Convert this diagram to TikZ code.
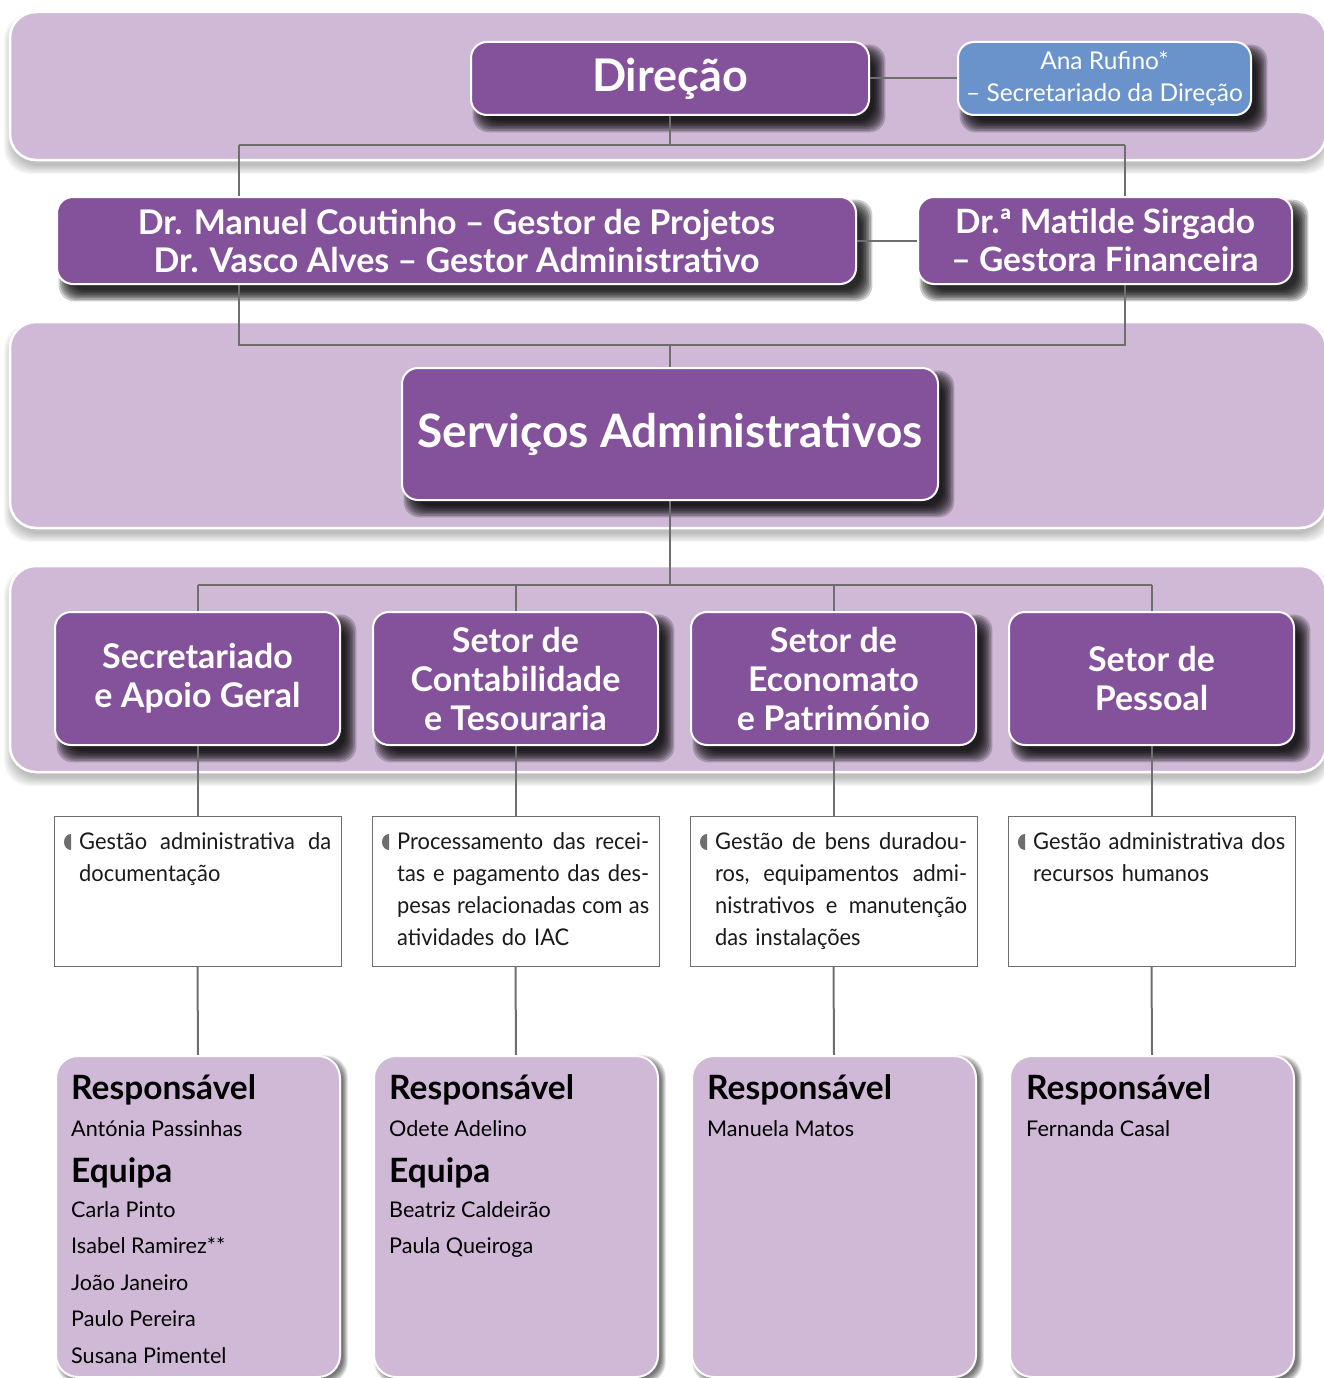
\documentclass[tikz,border=0pt]{standalone}
\usepackage{fontspec}
\setmainfont{Lato}
\newfontfamily\descfont[FakeStretch=0.95]{Lato}
\usetikzlibrary{calc}
\definecolor{bandc}{HTML}{CFB9D7}
\definecolor{purp}{HTML}{84529B}
\definecolor{blueb}{HTML}{6B93CB}
\definecolor{conn}{HTML}{6E6E6E}
\definecolor{txt}{HTML}{1A1A1A}
\pgfdeclarelayer{bandshadow}
\pgfdeclarelayer{bandlayer}
\pgfdeclarelayer{shadowlayer}
\pgfdeclarelayer{linelayer}
\pgfsetlayers{bandshadow,bandlayer,shadowlayer,linelayer,main}
\newcommand{\softshadow}[6]{% node, dx, dy, radius, opacity per layer, step
  \foreach \k in {-4,...,3}{
    \pgfmathsetmacro{\ee}{-\k*#6}
    \fill[black, opacity=#5, rounded corners=#4]
      ($(#1.north west)+(#2-\ee,#3-\ee)$) rectangle ($(#1.south east)+(#2+\ee,#3+\ee)$);
  }}
\tikzset{
  bandbox/.style={fill=bandc, draw=white, line width=2.5pt, rounded corners=26pt, inner sep=0pt},
  pbox/.style={fill=purp, draw=white, line width=2pt, rounded corners=16pt, text=white,
    align=center, inner sep=0pt},
  bbox/.style={pbox, fill=blueb},
  descbox/.style={fill=white, draw=conn, line width=1pt, inner sep=0pt},
  teambox/.style={fill=bandc, draw=white, line width=2pt, rounded corners=22pt, inner sep=0pt},
  cline/.style={draw=conn, line width=2pt},
  desctext/.style={anchor=north west, inner sep=0pt, text width=252pt, align=left, text=txt,
    font=\descfont\fontsize{23}{32}\selectfont},
  headt/.style={anchor=base west, inner sep=0pt, text=black, font=\bfseries\fontsize{33.5}{33.5}\selectfont},
  namet/.style={anchor=base west, inner sep=0pt, text=black, font=\fontsize{21.6}{21.6}\selectfont},
}
\newcommand{\jl}[1]{\leavevmode\hbox to 252pt{#1}}
\begin{document}
\begin{tikzpicture}[x=1pt, y=-1pt]
\useasboundingbox (0,0) rectangle (1324,1378);

% bands
\begin{pgfonlayer}{bandlayer}
\node[bandbox, minimum width=1316pt, minimum height=148pt] (band1) at (668,86) {};
\node[bandbox, minimum width=1316pt, minimum height=206pt] (band2) at (668,425) {};
\node[bandbox, minimum width=1316pt, minimum height=206pt] (band3) at (668,669) {};
\end{pgfonlayer}

% top level nodes
\node[pbox, minimum width=398pt, minimum height=73pt, font=\bfseries\fontsize{45}{45}\selectfont]
  (dir) at (670,78.5) {Direção};
\node[bbox, minimum width=293pt, minimum height=73pt, font=\fontsize{24.5}{32.5}\selectfont]
  (ana) at (1104.5,78.5) {Ana Rufino*\\– Secretariado da Direção};
\node[pbox, minimum width=799pt, minimum height=87pt, font=\bfseries\fontsize{34}{38}\selectfont]
  (man) at (456.5,240.5) {Dr. Manuel Coutinho – Gestor de Projetos\\Dr. Vasco Alves – Gestor Administrativo};
\node[pbox, minimum width=374pt, minimum height=87pt, font=\bfseries\fontsize{33.5}{38}\selectfont]
  (mat) at (1105,240.5) {Dr.ª Matilde Sirgado\\– Gestora Financeira};
\node[pbox, minimum width=536pt, minimum height=132pt, font=\bfseries\fontsize{46}{46}\selectfont]
  (serv) at (670,434) {Serviços Administrativos};

% sectors
\tikzset{secbox/.style={pbox, minimum width=285pt, minimum height=133pt, font=\bfseries\fontsize{34}{39}\selectfont}}
\node[secbox] (s1) at (197.5,678.5) {Secretariado\\e Apoio Geral};
\node[secbox] (s2) at (515.5,678.5) {Setor de\\Contabilidade\\e Tesouraria};
\node[secbox] (s3) at (833.5,678.5) {Setor de\\Economato\\e Património};
\node[secbox] (s4) at (1151.5,678.5) {Setor de\\Pessoal};

% description boxes
\tikzset{dbox/.style={descbox, minimum width=287pt, minimum height=150pt}}
\node[dbox] (d1) at (197.5,891) {};
\node[dbox] (d2) at (515.5,891) {};
\node[dbox] (d3) at (833.5,891) {};
\node[dbox] (d4) at (1151.5,891) {};

\foreach \bx in {71,389,707,1025}{
  \fill[conn] (\bx,834) arc[start angle=270, end angle=90, x radius=7, y radius=8] -- cycle;
}

\node[desctext] (t1) at (79,832) {\jl{Gestão\hfill administrativa\hfill da}\\documentação};
\node[desctext] (t2) at (397,832) {\jl{Processamento\hfill das\hfill recei-}\\\jl{tas\hfill e\hfill pagamento\hfill das\hfill des-}\\\jl{pesas\hfill relacionadas\hfill com\hfill as}\\atividades do IAC};
\node[desctext] (t3) at (715,832) {\jl{Gestão\hfill de\hfill bens\hfill duradou-}\\\jl{ros,\hfill equipamentos\hfill admi-}\\\jl{nistrativos\hfill e\hfill manutenção}\\das instalações};
\node[desctext] (t4) at (1033,832) {\jl{Gestão\hfill administrativa\hfill dos}\\recursos humanos};

% team boxes
\tikzset{tbox/.style={teambox, minimum width=284pt, minimum height=321pt}}
\node[tbox] (e1) at (198,1216.5) {};
\node[tbox] (e2) at (516,1216.5) {};
\node[tbox] (e3) at (834,1216.5) {};
\node[tbox] (e4) at (1152,1216.5) {};

\node[headt] (r1) at (71,1099) {Responsável};
\node[namet] (n1) at (71,1136) {Antónia Passinhas};
\node[headt] (q1) at (71,1182) {Equipa};
\node[namet] (m11) at (71,1217) {Carla Pinto};
\node[namet] (m12) at (71,1253) {Isabel Ramirez**};
\node[namet] (m13) at (71,1290) {João Janeiro};
\node[namet] (m14) at (71,1326) {Paulo Pereira};
\node[namet] (m15) at (71,1363) {Susana Pimentel};

\node[headt] (r2) at (389,1099) {Responsável};
\node[namet] (n2) at (389,1136) {Odete Adelino};
\node[headt] (q2) at (389,1182) {Equipa};
\node[namet] (m21) at (389,1217) {Beatriz Caldeirão};
\node[namet] (m22) at (389,1253) {Paula Queiroga};

\node[headt] (r3) at (707,1099) {Responsável};
\node[namet] (n3) at (707,1136) {Manuela Matos};

\node[headt] (r4) at (1026,1099) {Responsável};
\node[namet] (n4) at (1026,1136) {Fernanda Casal};

% shadows
\begin{pgfonlayer}{bandshadow}
\foreach \b in {band1,band2,band3}{\softshadow{\b}{0}{8}{26pt}{0.035}{1.2}}
\end{pgfonlayer}
\begin{pgfonlayer}{shadowlayer}
\foreach \n in {dir,ana,man,mat,serv,s1,s2,s3,s4}{\softshadow{\n}{9}{10}{16pt}{0.2}{1.6}}
\foreach \n in {e1,e2,e3,e4}{\softshadow{\n}{4}{3}{22pt}{0.09}{0.7}}
\end{pgfonlayer}

% connectors
\begin{pgfonlayer}{linelayer}
\coordinate (j1) at (670,145);
\coordinate (j1l) at (239,145);
\coordinate (j1r) at (1125,145);
\draw[cline] (dir.east) -- (ana.west);
\draw[cline] (dir.south) -- (j1);
\draw[cline] (j1l) -- (j1r);
\draw[cline] (j1l) -- (j1l |- man.north);
\draw[cline] (j1r) -- (j1r |- mat.north);
\draw[cline] (man.east) -- (mat.west);
\coordinate (j2) at (670,345);
\coordinate (j2l) at (239,345);
\coordinate (j2r) at (1125,345);
\draw[cline] (j2l |- man.south) -- (j2l) -- (j2r) -- (j2r |- mat.south);
\draw[cline] (j2) -- (serv.north);
\coordinate (j3) at (670,585);
\draw[cline] (serv.south) -- (j3);
\draw[cline] (s1.north |- j3) -- (s4.north |- j3);
\foreach \i in {1,2,3,4}{
  \draw[cline] (s\i.north |- j3) -- (s\i.north);
  \draw[cline] (s\i.south) -- (d\i.north);
  \draw[cline] (d\i.south) -- (e\i.north);
}
\end{pgfonlayer}
\end{tikzpicture}
\end{document}
